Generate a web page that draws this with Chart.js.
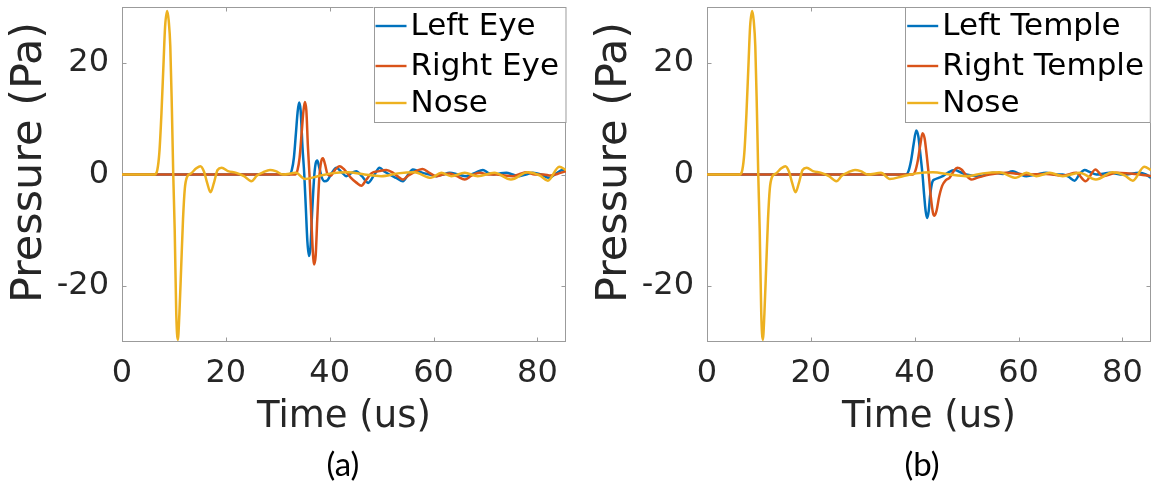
<!DOCTYPE html>
<html><head><meta charset="utf-8">
<script src="https://cdn.jsdelivr.net/npm/chart.js@4/dist/chart.umd.min.js"></script>
<style>
html,body{margin:0;padding:0;background:#fff;}
#wrap{position:relative;width:1158px;height:483px;overflow:hidden;background:#fff;}
canvas{position:absolute;top:0;}
#c1{left:0;} #c2{left:585px;}
.cap{position:absolute;font-family:Lato,"Open Sans",sans-serif;font-size:33px;color:#000;transform:translate(-50%,-50%);top:463px;white-space:nowrap;}
</style></head><body>
<div id="wrap">
<canvas id="c1" width="580" height="483"></canvas>
<canvas id="c2" width="573" height="483"></canvas>
<div class="cap" style="left:343px">(a)</div>
<div class="cap" style="left:922px">(b)</div>
</div>
<script>
// ---- tick labels ----
const timeTicks = [0, 20, 40, 60, 80];
const pressureTicks = [-20, 0, 20];
const timeRange = [0, 85.5];
const pressureRange = [-30, 30];

// ---- series (time in us, pressure in Pa) ----
const noseT = [0, 6.3, 6.8, 7.2, 7.6, 8.0, 8.3, 8.7, 9.0, 9.3, 9.6, 9.87, 10.15, 10.45, 10.75, 11.05, 11.4, 11.75, 12.1, 12.5, 13.3, 14.3, 15.1, 15.8, 16.4, 17.05, 17.7, 18.4, 19.2, 20.4, 22.0, 23.5, 24.9, 26.0, 27.2, 28.5, 29.6, 31.0, 33.5, 35.2, 37.7, 40.3, 43.5, 46.7, 49.9, 53.1, 56.3, 59.5, 61.5, 63.4, 66.0, 68.5, 71.7, 74.9, 78.1, 80.5, 82.0, 84.2, 85.5];
const noseP = [0, 0, 0.8, 4, 11, 20, 26.5, 29.3, 27.5, 23, 12, 0, -10, -25, -29.6, -25, -16.5, -8, -2.5, -0.5, 0.2, 1.1, 1.5, 0.5, -1.5, -3.2, -1.5, 0.8, 1.2, 0.6, 0.3, -0.3, -1.2, -0.2, 0.4, 0.8, 0.6, 0, 0.3, -0.8, -0.3, 0.2, 0.4, 0, -0.3, 0.2, 0.4, -0.6, 0.3, -0.3, 0.3, -0.3, 0.3, -0.9, 0.4, -0.2, -1.1, 1.4, 0.8];

const leftEyeT = [0, 32.2, 32.7, 33.1, 33.5, 33.8, 34.1, 34.4, 34.75, 35.1, 35.4, 35.7, 36.0, 36.3, 36.6, 37.0, 37.3, 37.6, 38.0, 38.5, 39.0, 39.6, 40.4, 41.3, 42.2, 43.2, 44.2, 45.1, 46.2, 47.4, 48.5, 49.6, 50.6, 51.5, 52.8, 54.1, 55.1, 56.0, 57.0, 57.9, 59.2, 60.5, 61.8, 63.1, 64.7, 66.3, 68.0, 69.5, 70.5, 71.5, 72.8, 74.0, 75.2, 76.5, 77.8, 79.1, 80.7, 82.3, 83.6, 84.9, 85.5];
const leftEyeP = [0, 0, 0.8, 3, 7.5, 11, 12.9, 11.5, 5, 0, -6, -12, -14.6, -13, -7, -0.5, 2, 2.5, 1.2, -0.6, -1.2, -1.0, 0.3, 1.2, 0.5, -0.3, 0.3, 0.6, -0.3, -1.5, -0.2, 1.2, 0.5, 0, -0.6, -1.2, 0, 0.9, 0.6, 0.3, 0, -0.3, 0, 0.3, 0, -0.3, 0.3, 0.8, 0.3, 0, 0.2, 0.3, 0, -0.3, 0, 0.3, 0, -0.6, 0.2, 0.8, 0.6];

const rightEyeT = [0, 33.4, 33.8, 34.2, 34.6, 34.9, 35.2, 35.5, 35.8, 36.1, 36.4, 36.7, 37.0, 37.3, 37.6, 38.0, 38.35, 38.7, 39.1, 39.6, 40.2, 41.0, 41.9, 42.9, 44.0, 45.2, 46.1, 47.0, 48.0, 49.5, 50.9, 52.2, 53.2, 54.1, 55.0, 56.2, 57.9, 59.2, 60.5, 61.8, 63.1, 64.5, 66.0, 67.3, 68.9, 70.5, 72.1, 73.7, 75.3, 76.6, 77.9, 79.5, 81.2, 82.5, 83.8, 85.5];
const rightEyeP = [0, 0, 0.8, 3, 7.5, 11, 13.0, 11.5, 5, 0, -6.5, -13, -16.1, -14.5, -8, -0.5, 2.3, 2.9, 1.8, 0, -0.2, 0.8, 1.5, 0.8, -0.5, -1.5, -2.0, -1.0, 0.2, 0.6, 0.8, 0.3, -0.4, -0.9, -0.3, 0.4, 1.0, 0.3, -0.3, 0, 0.2, -0.3, -0.9, -0.2, 0.3, 0, 0, -0.2, -0.3, 0.1, 0.4, 0, 0, -0.2, 0.1, 0.6];

const leftTempleT = [0, 38.3, 38.8, 39.3, 39.8, 40.3, 40.7, 41.1, 41.5, 41.8, 42.1, 42.4, 42.7, 43.0, 43.4, 43.8, 44.6, 45.4, 46.5, 47.7, 48.8, 49.9, 52.5, 55.1, 57.0, 58.9, 60.2, 61.5, 63.5, 65.3, 67.0, 68.5, 69.6, 70.8, 71.7, 72.7, 73.8, 75.0, 77.6, 80.1, 83.3, 84.5, 85.5];
const leftTempleP = [0, 0, 0.6, 2.5, 5.5, 7.9, 6.8, 3.5, 0, -3.5, -6.5, -7.8, -6.5, -3.5, -1.3, -0.9, -0.6, -0.3, 0.4, 0.8, 0.4, 0, -0.3, 0.3, 0.1, 0.6, 0.1, -0.3, 0, 0.3, 0, 0, -0.4, -1.1, 0, 0.8, 0.4, 0, 0.3, 0, 0.3, 0, -0.6];

const rightTempleT = [0, 39.6, 40.1, 40.6, 41.1, 41.5, 41.9, 42.3, 42.7, 43.1, 43.5, 43.8, 44.2, 44.7, 45.3, 46.0, 46.7, 47.5, 48.2, 49.0, 49.8, 50.9, 52.0, 54.4, 57.6, 61.5, 65.3, 68.5, 71.1, 72.9, 74.8, 76.2, 78.8, 83.3, 85.5];
const rightTempleP = [0, 0, 0.6, 2.5, 5.5, 7.4, 6.5, 3.5, 0, -4, -6.8, -7.4, -6.5, -4, -2, -1, -0.6, 0.6, 1.2, 0.9, 0, -0.9, -0.6, 0, 0.3, 0, 0.1, -0.2, 0.3, -1.2, 0.9, -0.3, 0.3, 0, -0.3];

const colors = ['#0072BD', '#D95319', '#EDB120'];
const FONT = '"DejaVu Sans", Verdana, sans-serif';

function zip(T, P) { return T.map((t, i) => ({ x: t, y: P[i] })); }

const framePlugin = {
  id: 'frame',
  beforeDatasetsDraw(chart) {
    const { ctx, chartArea: a, scales } = chart;
    ctx.save();
    ctx.strokeStyle = '#9b9b9b';
    ctx.lineWidth = 1;
    ctx.strokeRect(a.left + 0.5, a.top + 0.5, a.right - a.left - 1, a.bottom - a.top - 1);
    const L = 4.5;
    ctx.beginPath();
    scales.x.ticks.forEach(t => {
      const px = Math.round(scales.x.getPixelForValue(t.value)) + 0.5;
      ctx.moveTo(px, a.bottom); ctx.lineTo(px, a.bottom - L);
      ctx.moveTo(px, a.top); ctx.lineTo(px, a.top + L);
    });
    scales.y.ticks.forEach(t => {
      const py = Math.round(scales.y.getPixelForValue(t.value)) + 0.5;
      ctx.moveTo(a.left, py); ctx.lineTo(a.left + L, py);
      ctx.moveTo(a.right, py); ctx.lineTo(a.right - L, py);
    });
    ctx.stroke();
    ctx.restore();
  }
};

const legendPlugin = {
  id: 'boxLegend',
  afterDatasetsDraw(chart) {
    const { ctx, chartArea: a } = chart;
    const ds = chart.data.datasets;
    ctx.save();
    ctx.font = '31px ' + FONT;
    let w = 0;
    ds.forEach(d => { w = Math.max(w, ctx.measureText(d.label).width); });
    const bw = 37 + w + 7, bh = 116;
    const x0 = a.right - bw, y0 = a.top;
    ctx.fillStyle = '#fff';
    ctx.fillRect(x0, y0, bw, bh);
    ctx.strokeStyle = '#9b9b9b';
    ctx.lineWidth = 1;
    ctx.strokeRect(Math.round(x0) + 0.5, y0 + 0.5, bw - 1, bh - 1);
    const rows = [19, 59, 96];
    ds.forEach((d, i) => {
      const y = y0 + rows[i];
      ctx.strokeStyle = d.borderColor;
      ctx.lineWidth = 2.4;
      ctx.beginPath(); ctx.moveTo(x0 + 2, y); ctx.lineTo(x0 + 33, y); ctx.stroke();
      ctx.fillStyle = '#000';
      ctx.textAlign = 'left';
      ctx.textBaseline = 'middle';
      ctx.fillText(d.label, x0 + 37, y + 1);
    });
    ctx.restore();
  }
};

const yTitlePlugin = {
  id: 'yTitle',
  afterDraw(chart) {
    const { ctx, chartArea: a } = chart;
    ctx.save();
    ctx.translate(30, (a.top + a.bottom) / 2 - 12);
    ctx.rotate(-Math.PI / 2);
    ctx.font = '43px ' + FONT;
    ctx.fillStyle = '#262626';
    ctx.textAlign = 'center';
    ctx.textBaseline = 'middle';
    ctx.fillText('Pressure (Pa)', 0, 0);
    ctx.restore();
  }
};

function makeChart(id, labels, series, padRight) {
  const datasets = series.map((s, i) => ({
    label: labels[i],
    data: zip(s[0], s[1]),
    borderColor: colors[i],
    backgroundColor: colors[i],
    borderWidth: 2.5,
    pointRadius: 0,
    fill: false,
    cubicInterpolationMode: 'monotone',
    order: 2 - i
  }));
  return new Chart(document.getElementById(id), {
    type: 'line',
    data: { datasets },
    plugins: [framePlugin, legendPlugin, yTitlePlugin],
    options: {
      responsive: false,
      animation: false,
      devicePixelRatio: 1,
      layout: { padding: { left: 0, right: padRight, top: 7, bottom: 0 } },
      plugins: { legend: { display: false }, tooltip: { enabled: false } },
      scales: {
        x: {
          type: 'linear',
          min: timeRange[0], max: timeRange[1],
          afterBuildTicks: s => { s.ticks = timeTicks.map(v => ({ value: v })); },
          afterFit: s => { s.height = 141; s.paddingLeft = 0; s.paddingRight = 0; s.paddingTop = 0; s.paddingBottom = 0; },
          grid: { display: false, drawTicks: false },
          border: { display: false },
          ticks: { color: '#262626', font: { family: FONT, size: 32 }, padding: 12, maxRotation: 0, autoSkip: false },
          title: { display: true, text: 'Time (us)', color: '#262626', font: { family: FONT, size: 37 }, padding: { top: 0, bottom: 43 } }
        },
        y: {
          type: 'linear',
          min: pressureRange[0], max: pressureRange[1],
          afterBuildTicks: s => { s.ticks = pressureTicks.map(v => ({ value: v })); },
          afterFit: s => { s.width = 122; s.paddingLeft = 0; s.paddingRight = 0; s.paddingTop = 0; s.paddingBottom = 0; },
          grid: { display: false, drawTicks: false },
          border: { display: false },
          ticks: { color: '#262626', font: { family: FONT, size: 32 }, padding: 13, autoSkip: false }
        }
      }
    }
  });
}

makeChart('c1', ['Left Eye', 'Right Eye', 'Nose'],
  [[leftEyeT, leftEyeP], [rightEyeT, rightEyeP], [noseT, noseP]], 14);
makeChart('c2', ['Left Temple', 'Right Temple', 'Nose'],
  [[leftTempleT, leftTempleP], [rightTempleT, rightTempleP], [noseT, noseP]], 7);
</script>
</body></html>
